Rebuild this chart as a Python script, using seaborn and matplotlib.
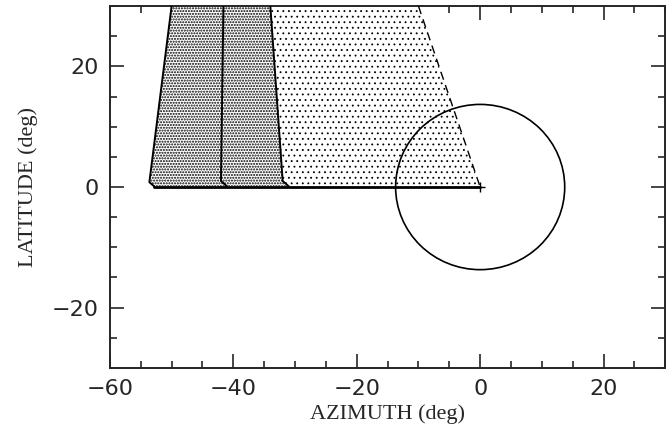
import numpy as np
import pandas as pd
import matplotlib
matplotlib.use("Agg")
import matplotlib.pyplot as plt
from matplotlib.patches import Circle
from matplotlib.ticker import MultipleLocator
import seaborn as sns

# boundary edges of the shaded zones (azimuth, latitude in deg), top -> bottom
edge1_az = [-50.0, -53.6, -52.8]
edge1_lat = [30.0, 0.8, 0.1]
edge2_az = [-41.6, -42.0, -41.0]
edge2_lat = [30.0, 1.0, 0.1]
edge3_az = [-34.0, -32.0, -31.0]
edge3_lat = [30.0, 1.0, 0.1]
dash_az = [-10.0, 0.0]
dash_lat = [30.0, 0.0]
base_az = [-52.8, 0.0]
base_lat = [0.0, 0.0]
circle_radius = 13.7

sns.set_style("ticks")
plt.rcParams["hatch.color"] = "black"

fig = plt.figure(figsize=(6.70, 4.37), dpi=100)
ax = fig.add_axes([0.164, 0.158, 0.829, 0.828])

def zone(az_a, lat_a, az_b, lat_b, hatch, hlw):
    xs = list(az_a) + list(az_b)[::-1]
    ys = list(lat_a) + list(lat_b)[::-1]
    with plt.rc_context({"hatch.linewidth": hlw}):
        ax.fill(xs, ys, facecolor="white", edgecolor="black", linewidth=0,
                hatch=hatch, zorder=1)

zone(edge1_az, edge1_lat, edge2_az, edge2_lat, "......", 1.0)
zone(edge2_az, edge2_lat, edge3_az, edge3_lat, "......", 1.0)
zone(edge3_az, edge3_lat, dash_az, dash_lat, "...", 0.6)

for az, lat in [(edge1_az, edge1_lat), (edge2_az, edge2_lat), (edge3_az, edge3_lat)]:
    df = pd.DataFrame({"az": az, "lat": lat})
    sns.lineplot(data=df, x="az", y="lat", sort=False, estimator=None,
                 color="black", lw=1.4, ax=ax, zorder=3)
sns.lineplot(x=dash_az, y=dash_lat, sort=False, estimator=None, color="black",
             lw=1.0, ax=ax, zorder=3)
ax.lines[-1].set_dashes([6, 4])
sns.lineplot(x=base_az, y=base_lat, sort=False, estimator=None, color="black",
             lw=2.0, ax=ax, zorder=3)
ax.plot([0], [0], marker="+", color="black", ms=7, mew=1.0, zorder=4)
ax.add_patch(Circle((0, 0), circle_radius, fill=False, color="black", lw=1.2, zorder=3))

ax.set_xlim(-60, 30)
ax.set_ylim(-30, 30)
ax.xaxis.set_major_locator(MultipleLocator(20))
ax.xaxis.set_minor_locator(MultipleLocator(5))
ax.yaxis.set_major_locator(MultipleLocator(20))
ax.yaxis.set_minor_locator(MultipleLocator(5))
ax.tick_params(which="both", direction="in", top=True, right=True, width=1.2,
               labelsize=16, pad=8)
ax.tick_params(which="major", length=10)
ax.tick_params(which="minor", length=5)
for s in ax.spines.values():
    s.set_linewidth(1.4)

ax.set_xlabel("AZIMUTH (deg)", fontsize=16, family="Liberation Serif", labelpad=4)
ax.set_ylabel("LATITUDE (deg)", fontsize=16, family="Liberation Serif", labelpad=10)

fig.savefig("out.png", dpi=100)
